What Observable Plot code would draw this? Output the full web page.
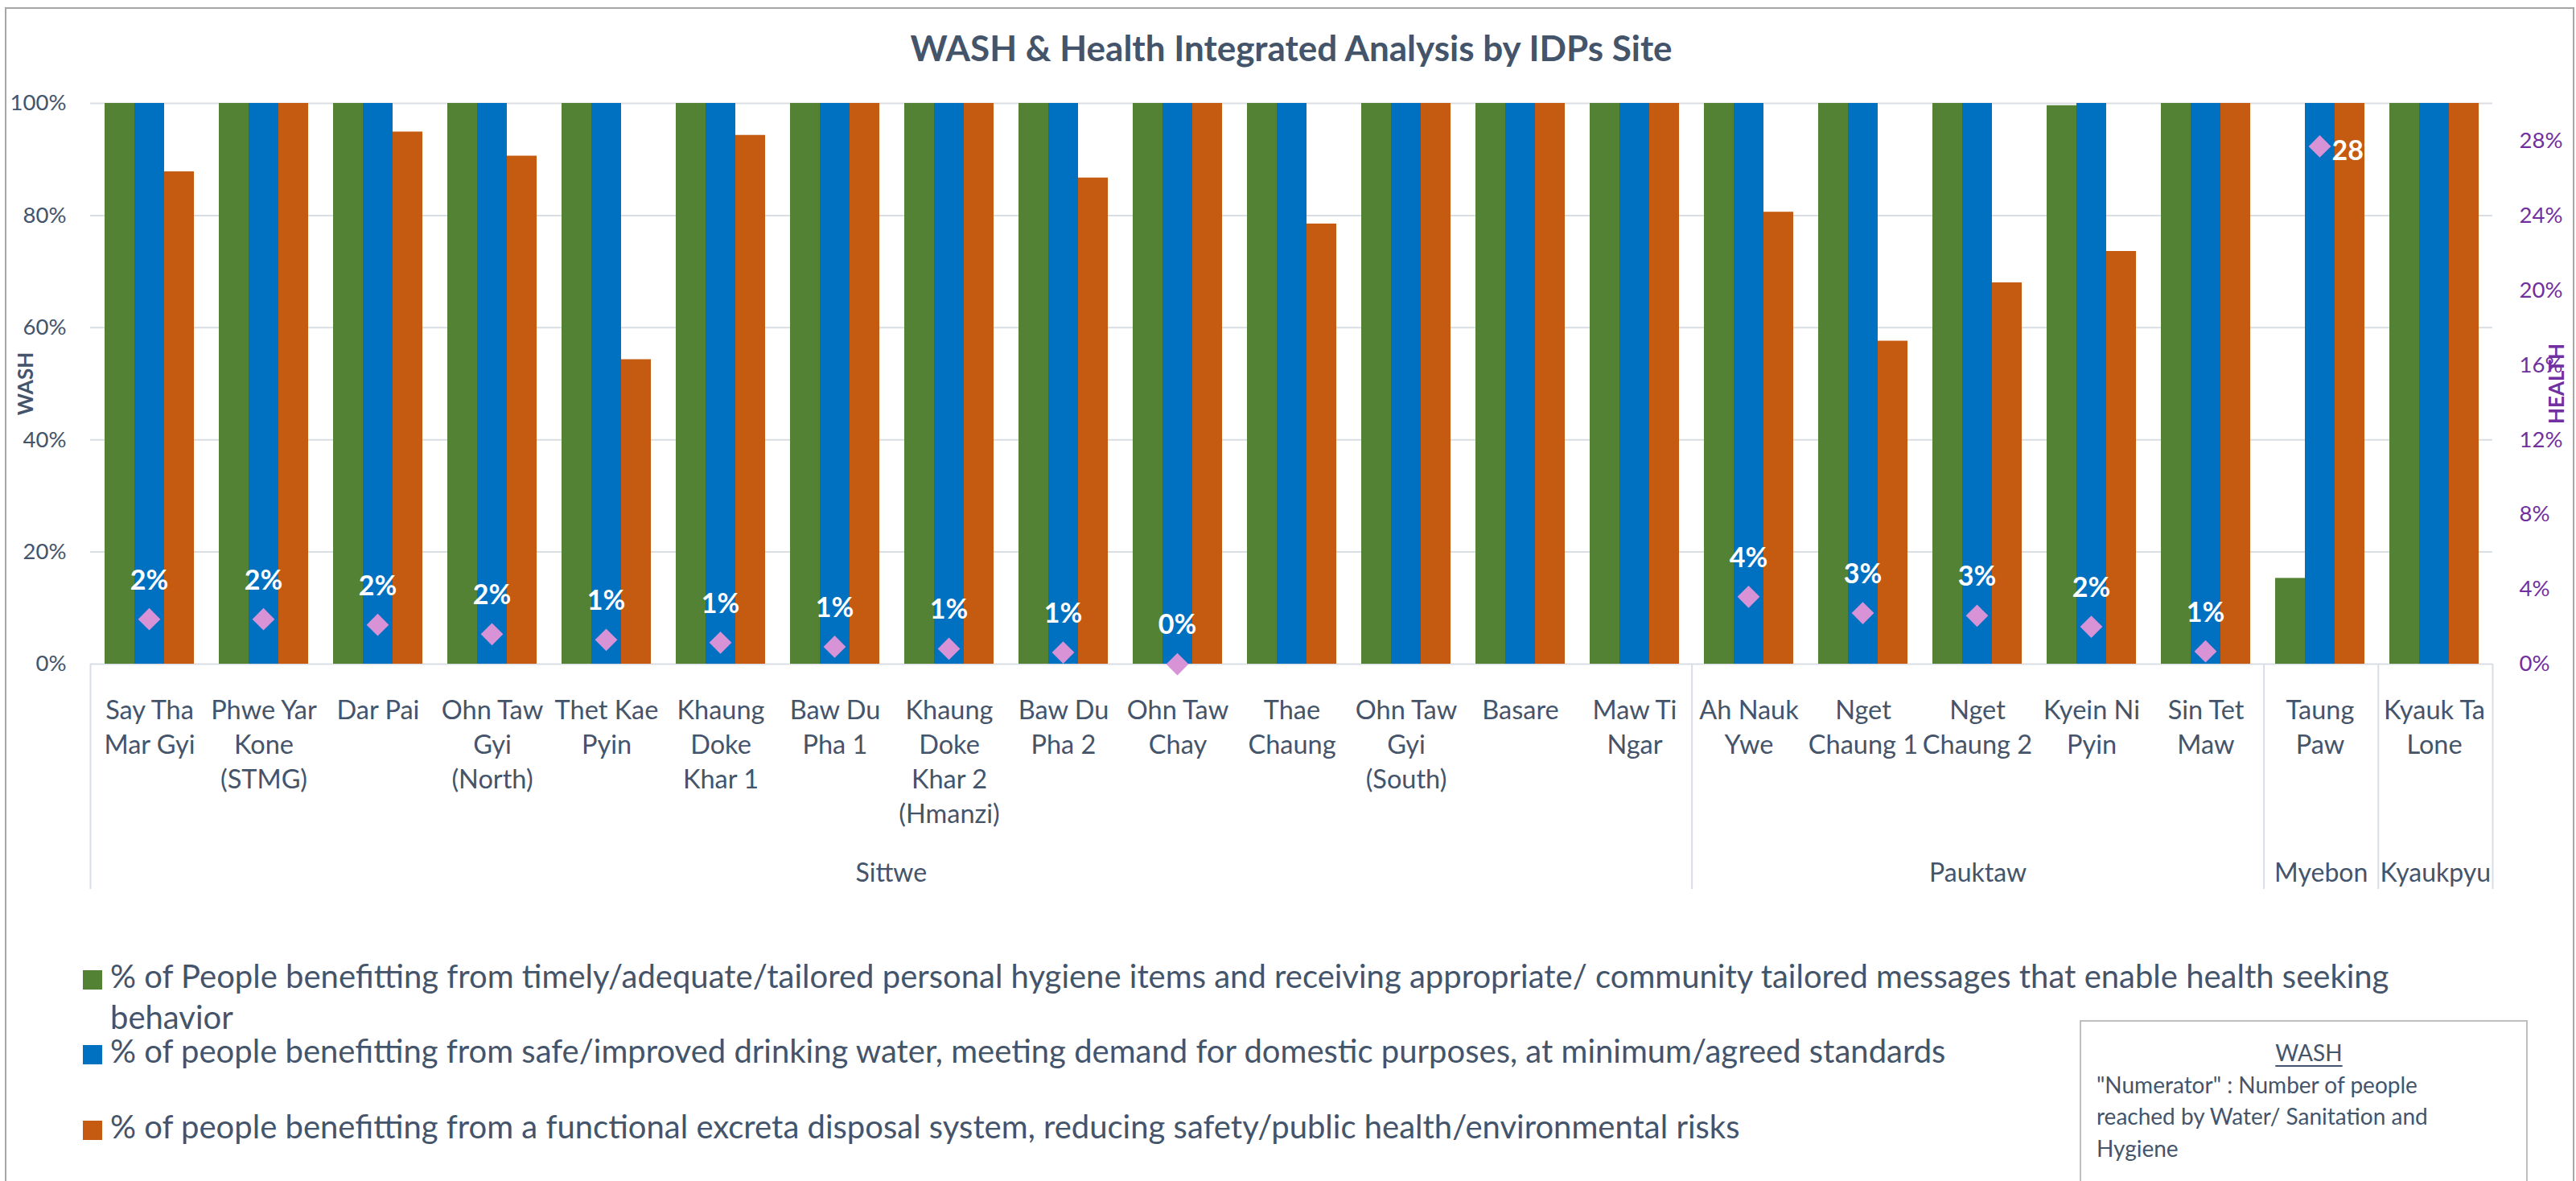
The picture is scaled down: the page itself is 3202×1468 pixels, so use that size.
<!DOCTYPE html>
<html>
<head>
<meta charset="utf-8">
<script src="https://cdn.jsdelivr.net/npm/d3@7"></script>
<script src="https://cdn.jsdelivr.net/npm/@observablehq/plot@0.6"></script>
<style>
  html, body { margin: 0; padding: 0; background: #fff; }
  #chart { position: relative; width: 3202px; height: 1468px; overflow: hidden; font-family: Lato, "Open Sans", sans-serif; color: #44546A; }
  #chart svg { position: absolute; left: 0; top: 0; }
  #border { position: absolute; left: 6px; top: 9px; width: 3194px; height: 1480px; border: 2px solid #A6A6A6; box-sizing: border-box; }
  #title { position: absolute; left: 0; width: 3210px; top: 37px; text-align: center; font-weight: bold; font-size: 44px; line-height: 44px; color: #44546A; }
  .lg-row { position: absolute; left: 103px; display: flex; align-items: flex-start; }
  .lg-sw { width: 24px; height: 24px; margin-top: 18px; flex: none; }
  .lg-tx { margin-left: 10px; font-size: 40px; line-height: 51px; white-space: pre-line; color: #44546A; }
  #note { position: absolute; left: 2585px; top: 1268px; width: 557px; height: 210px; border: 2px solid #BFBFBF; box-sizing: border-box; padding: 19px 6px 0 19px; font-size: 28px; line-height: 39.5px; color: #44546A; white-space: pre-line; }
  #note .hd { text-align: center; text-decoration: underline; text-underline-offset: 5px; text-decoration-thickness: 2px; }
</style>
</head>
<body>
<div id="chart">
  <div id="border"></div>
  <div id="title"></div>
</div>
<script>
// ---------------- data ----------------
const titleText = "WASH & Health Integrated Analysis by IDPs Site";

const sites = ["Say Tha Mar Gyi", "Phwe Yar Kone (STMG)", "Dar Pai", "Ohn Taw Gyi (North)", "Thet Kae Pyin",
  "Khaung Doke Khar 1", "Baw Du Pha 1", "Khaung Doke Khar 2 (Hmanzi)", "Baw Du Pha 2", "Ohn Taw Chay",
  "Thae Chaung", "Ohn Taw Gyi (South)", "Basare", "Maw Ti Ngar", "Ah Nauk Ywe", "Nget Chaung 1",
  "Nget Chaung 2", "Kyein Ni Pyin", "Sin Tet Maw", "Taung Paw", "Kyauk Ta Lone"];

const siteLabels = ["Say Tha\nMar Gyi", "Phwe Yar\nKone\n(STMG)", "Dar Pai", "Ohn Taw\nGyi\n(North)", "Thet Kae\nPyin",
  "Khaung\nDoke\nKhar 1", "Baw Du\nPha 1", "Khaung\nDoke\nKhar 2\n(Hmanzi)", "Baw Du\nPha 2", "Ohn Taw\nChay",
  "Thae\nChaung", "Ohn Taw\nGyi\n(South)", "Basare", "Maw Ti\nNgar", "Ah Nauk\nYwe", "Nget\nChaung 1",
  "Nget\nChaung 2", "Kyein Ni\nPyin", "Sin Tet\nMaw", "Taung\nPaw", "Kyauk Ta\nLone"];

const districts = ["Sittwe", "Pauktaw", "Myebon", "Kyaukpyu"];
const districtSiteCounts = [14, 5, 1, 1];

const seriesNames = [
  "% of People benefitting from timely/adequate/tailored personal hygiene items and receiving appropriate/ community tailored messages that enable health seeking\nbehavior",
  "% of people benefitting from safe/improved drinking water, meeting demand for domestic purposes, at minimum/agreed standards",
  "% of people benefitting from a functional excreta disposal system, reducing safety/public health/environmental risks"
];
const seriesKeys = ["hygiene", "water", "sanitation"];
const seriesColors = ["#548235", "#0070C0", "#C55A11"];

// WASH (%)
const hygiene    = [100, 100, 100, 100, 100, 100, 100, 100, 100, 100, 100, 100, 100, 100, 100, 100, 100, 99.6, 100, 15.3, 100];
const water      = [100, 100, 100, 100, 100, 100, 100, 100, 100, 100, 100, 100, 100, 100, 100, 100, 100, 100, 100, 100, 100];
const sanitation = [87.8, 100, 94.9, 90.6, 54.3, 94.3, 100, 100, 86.7, 100, 78.5, 100, 100, 100, 80.6, 57.6, 68.0, 73.6, 100, 100, 100];

// HEALTH (%), null = no value
const health = [2.4, 2.4, 2.1, 1.6, 1.3, 1.15, 0.93, 0.82, 0.62, 0, null, null, null, null, 3.6, 2.73, 2.59, 2.0, 0.68, 27.7, null];

const washTicks = [0, 20, 40, 60, 80, 100];
const healthTicks = [0, 4, 8, 12, 16, 20, 24, 28];
const washAxisTitle = "WASH";
const healthAxisTitle = "HEALTH";

const noteTitle = "WASH";
const noteLines = ["\"Numerator\" : Number of people", "reached by Water/ Sanitation and", "Hygiene"];

// ---------------- layout / style ----------------
const W = 3202, H = 1468;
const M = {left: 112, right: 104, top: 128, bottom: 643};
const FONT = "Lato, 'Open Sans', sans-serif";
const TXT = "#44546A", GRID = "#D9DEE5", PURPLE = "#7030A0", PINK = "#D892D6";
const base = {width: W, height: H, marginLeft: M.left, marginRight: M.right, marginTop: M.top, marginBottom: M.bottom,
  style: {background: "transparent", fontFamily: FONT, overflow: "visible"}};

const chart = document.getElementById("chart");
document.getElementById("title").textContent = titleText;

const valuesBySeries = [hygiene, water, sanitation];
const barData = sites.flatMap((s, i) => seriesKeys.map((k, j) => ({site: s, series: k, value: valuesBySeries[j][i]})));
const healthData = sites.map((s, i) => ({site: s, health: health[i]})).filter(d => d.health != null);
const labelOf = new Map(sites.map((s, i) => [s, siteLabels[i]]));

// district spans in site-index units
let acc = 0;
const districtData = districts.map((name, i) => {
  const start = acc; acc += districtSiteCounts[i];
  return {name, start, end: acc, mid: (start + acc) / 2};
});
const boundaries = [0, ...districtData.map(d => d.end)];

// 1) background: gridlines + left axis
const bg = Plot.plot({
  ...base,
  x: {domain: [0, sites.length], axis: null},
  y: {domain: [0, 100], axis: null},
  marks: [
    Plot.ruleY(washTicks, {stroke: GRID, strokeWidth: 2}),
    Plot.axisY(washTicks, {anchor: "left", tickSize: 0, tickPadding: 30, tickFormat: d => d + "%", fontSize: 27.5, fill: TXT, label: null}),
    Plot.text([washAxisTitle], {frameAnchor: "left", textAnchor: "middle", rotate: -90, dx: -80, text: d => d, fontSize: 26, fontWeight: "bold", fill: TXT})
  ]
});
chart.appendChild(bg);

// 2) district axis area below the frame
const axisArea = Plot.plot({
  ...base,
  marginTop: 825, marginBottom: H - 1105,
  x: {domain: [0, sites.length], axis: null},
  marks: [
    Plot.ruleX(boundaries, {stroke: GRID, strokeWidth: 2}),
    Plot.text(districtData, {x: "mid", text: "name", frameAnchor: "bottom", dy: -10, fontSize: 32, fill: TXT})
  ]
});
chart.appendChild(axisArea);

// 3) grouped bars (faceted by site)
const bars = Plot.plot({
  ...base,
  fx: {domain: sites, paddingInner: 0.22, paddingOuter: 0.11, axis: null, label: null},
  x: {domain: seriesKeys, padding: 0, axis: null},
  y: {domain: [0, 100], axis: null},
  color: {domain: seriesKeys, range: seriesColors},
  marks: [
    Plot.barY(barData, {fx: "site", x: "series", y: "value", fill: "series"}),
    Plot.axisFx({anchor: "bottom", tickSize: 0, tickPadding: 38, tickFormat: d => labelOf.get(d), fontSize: 32.5, lineHeight: 1.32, fill: TXT, label: null})
  ]
});
chart.appendChild(bars);

// 4) health overlay with its own y scale (right axis)
const fmtPct = d => Math.round(d.health) + "%";
const hp = Plot.plot({
  ...base,
  x: {type: "point", domain: sites, padding: 0.5, axis: null},
  y: {domain: [0, 30], axis: null},
  marks: [
    Plot.axisY(healthTicks, {anchor: "right", tickSize: 0, tickPadding: 33, tickFormat: d => d + "%", fontSize: 27.5, fill: PURPLE, label: null}),
    Plot.text([healthAxisTitle], {frameAnchor: "right", textAnchor: "middle", rotate: -90, dx: 80, text: d => d, fontSize: 26, fontWeight: "bold", fill: PURPLE}),
    Plot.dot(healthData, {x: "site", y: "health", symbol: "diamond2", r: 12.5, fill: PINK, stroke: null}),
    Plot.text(healthData.filter(d => d.health < 20), {x: "site", y: "health", text: fmtPct, dy: -48, fill: "white", fontWeight: "bold", fontSize: 34}),
    Plot.text(healthData.filter(d => d.health >= 20), {x: "site", y: "health", text: fmtPct, textAnchor: "start", dx: 15, dy: 6, fill: "white", fontWeight: "bold", fontSize: 34})
  ]
});
chart.appendChild(hp);

// legend
const rowTops = [1188, 1281, 1375];
seriesNames.forEach((name, i) => {
  const row = document.createElement("div");
  row.className = "lg-row";
  row.style.top = rowTops[i] + "px";
  const sw = document.createElement("div");
  sw.className = "lg-sw";
  sw.style.background = seriesColors[i];
  const tx = document.createElement("div");
  tx.className = "lg-tx";
  tx.textContent = name;
  row.appendChild(sw); row.appendChild(tx);
  chart.appendChild(row);
});

// note box
const note = document.createElement("div");
note.id = "note";
const hd = document.createElement("div");
hd.className = "hd";
hd.textContent = noteTitle;
const bd = document.createElement("div");
bd.textContent = noteLines.join("\n");
note.appendChild(hd); note.appendChild(bd);
chart.appendChild(note);
</script>
</body>
</html>
